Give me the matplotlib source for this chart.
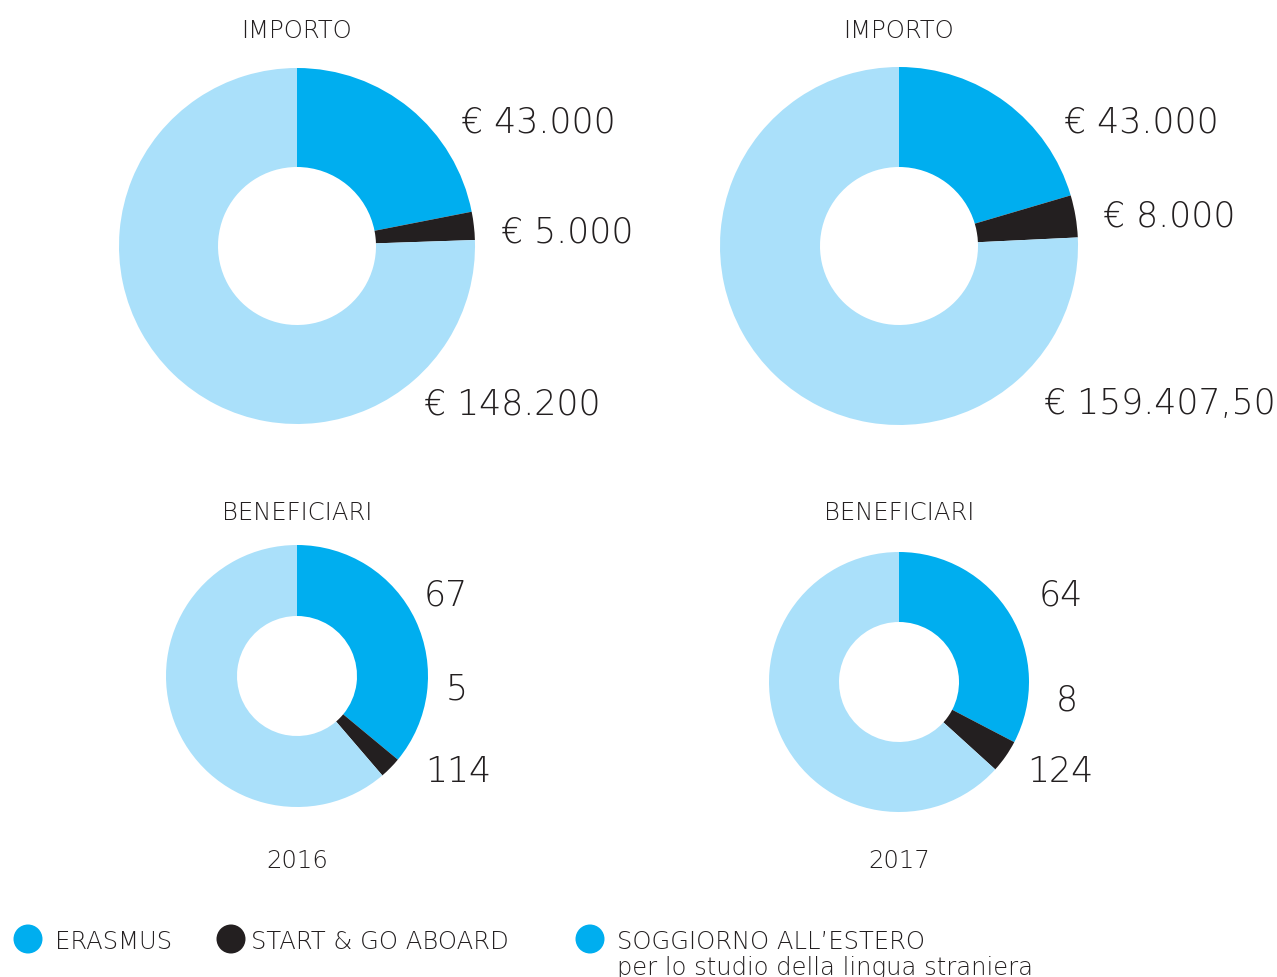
import matplotlib
matplotlib.use("Agg")
import matplotlib.pyplot as plt
from matplotlib.patches import Circle

# ---- data ----
years = ["2016", "2017"]
categories = ["ERASMUS", "START & GO ABOARD", "SOGGIORNO ALL\u2019ESTERO"]
importo_2016 = [43000, 5000, 148200]
importo_2017 = [43000, 8000, 159407.50]
benef_2016 = [67, 5, 114]
benef_2017 = [64, 8, 124]
importo_labels_2016 = ["\u20ac 43.000", "\u20ac 5.000", "\u20ac 148.200"]
importo_labels_2017 = ["\u20ac 43.000", "\u20ac 8.000", "\u20ac 159.407,50"]
benef_labels_2016 = ["67", "5", "114"]
benef_labels_2017 = ["64", "8", "124"]

colors = ["#00AEEF", "#231F20", "#AAE0FA"]
legend_colors = ["#00AEEF", "#231F20", "#00AEEF"]
text_color = "#231F20"

W, H = 1277, 978
fig = plt.figure(figsize=(W / 100, H / 100), dpi=100)
ax = fig.add_axes([0, 0, 1, 1])
FONT = ["DejaVu Sans"]

def Y(y):
    return H - y

def donut(vals, cx, cy, r, width):
    ax.pie(vals, colors=colors, startangle=90, counterclock=False,
           radius=r, center=(cx, Y(cy)),
           wedgeprops=dict(width=width, edgecolor="none", linewidth=0))

def txt(x, y, s, size, ha="left", weight=200):
    ax.text(x, Y(y), s, fontsize=size, ha=ha, va="center_baseline", color=text_color,
            family=FONT, fontweight=weight)

donut(importo_2016, 297, 247, 178, 99)
donut(importo_2017, 899, 247, 179, 100)
donut(benef_2016, 297, 677, 131, 71)
donut(benef_2017, 899, 683, 130, 70)

ax.set_xlim(0, W)
ax.set_ylim(0, H)
ax.set_aspect("auto")
ax.axis("off")

small = 17.5
txt(297, 29, "IMPORTO", small, ha="center")
txt(899, 29, "IMPORTO", small, ha="center")
txt(297, 511, "BENEFICIARI", small, ha="center")
txt(899, 511, "BENEFICIARI", small, ha="center")
txt(297, 859, years[0], small, ha="center")
txt(899, 859, years[1], small, ha="center")

big = 25
dy = -3
txt(461, 122 + dy, importo_labels_2016[0], big)
txt(501, 232 + dy, importo_labels_2016[1], big)
txt(424, 404 + dy, importo_labels_2016[2], big)
txt(1064, 122 + dy, importo_labels_2017[0], big)
txt(1103, 216 + dy, importo_labels_2017[1], big)
txt(1044, 404 + dy, importo_labels_2017[2], big)

txt(424, 595 + dy, benef_labels_2016[0], big)
txt(446, 689 + dy, benef_labels_2016[1], big)
txt(425, 772 + dy, benef_labels_2016[2], big)
txt(1039, 595 + dy, benef_labels_2017[0], big)
txt(1056, 700 + dy, benef_labels_2017[1], big)
txt(1027, 772 + dy, benef_labels_2017[2], big)

leg_x = [28, 231, 590]
leg_tx = [55, 251, 617]
for i in range(3):
    ax.add_patch(Circle((leg_x[i], Y(940)), 14.5, color=legend_colors[i], ec="none"))
    txt(leg_tx[i], 940, categories[i], small)
txt(617, 966, "per lo studio della lingua straniera", small)

fig.savefig("out.png", dpi=100)
